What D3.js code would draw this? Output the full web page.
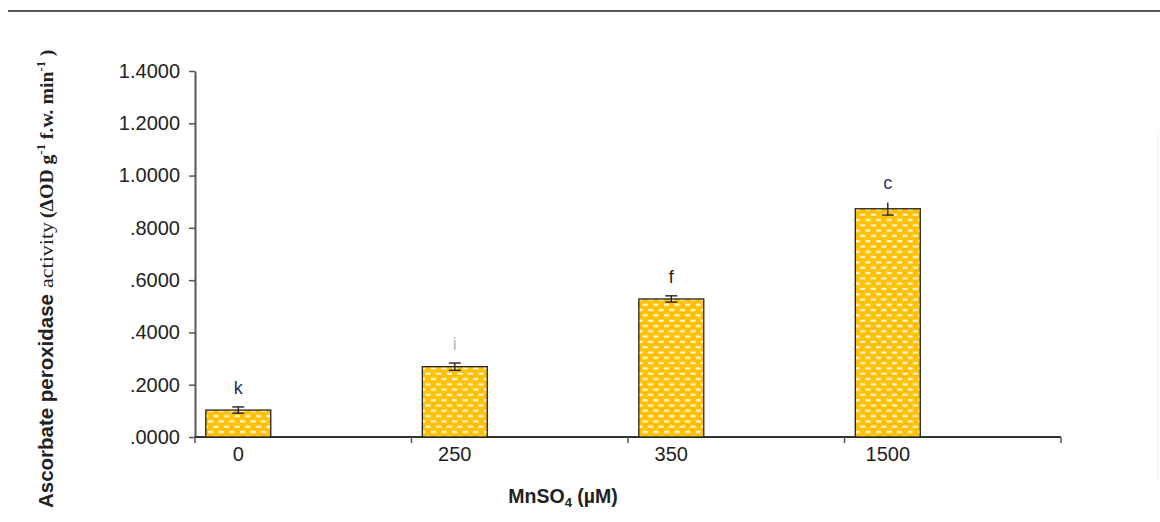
<!DOCTYPE html>
<html>
<head>
<meta charset="utf-8">
<script src="https://cdn.jsdelivr.net/npm/d3@7/dist/d3.min.js"></script>
<style>
  html, body { margin: 0; padding: 0; background: #fff; }
  svg { display: block; }
</style>
</head>
<body>
<script>
// MnSO4 concentrations (µM) and ascorbate peroxidase activity
const categories = ["0", "250", "350", "1500"];
const means      = [0.103, 0.269, 0.528, 0.873];
const errors     = [0.012, 0.014, 0.012, 0.024];
const letters    = ["k", "i", "f", "c"];
const yTicks     = [0, 0.2, 0.4, 0.6, 0.8, 1.0, 1.2, 1.4];

const W = 1160, H = 522;
const svg = d3.select("body").append("svg").attr("width", W).attr("height", H);

// Gold fill with a staggered white dash pattern
const defs = svg.append("defs");
const pat = defs.append("pattern")
  .attr("id", "dashFill").attr("patternUnits", "userSpaceOnUse")
  .attr("width", 10.6).attr("height", 10.6);
pat.append("rect").attr("width", 10.6).attr("height", 10.6).attr("fill", "#FFC000");
pat.append("rect").attr("x", 1.5).attr("y", 1.6).attr("width", 5).attr("height", 2.2).attr("fill", "#fff8e6");
pat.append("rect").attr("x", 6.8).attr("y", 6.9).attr("width", 5).attr("height", 2.2).attr("fill", "#fff8e6");
pat.append("rect").attr("x", -3.8).attr("y", 6.9).attr("width", 5).attr("height", 2.2).attr("fill", "#fff8e6");

// rule across the top of the page
svg.append("line").attr("x1", 8).attr("x2", W).attr("y1", 11).attr("y2", 11)
  .attr("stroke", "#555").attr("stroke-width", 2);

const y = d3.scaleLinear().domain([0, 1.4]).range([437, 71]);
const x = d3.scaleBand().domain(categories).range([195, 1061]).padding(0);
const barX = c => x(c) + x.bandwidth() * 0.05;
const barW = x.bandwidth() * 0.30;
const barC = c => barX(c) + barW / 2;

const tickFmt = v => d3.format(".4f")(v).replace(/^0/, "");

// y axis
const yAxis = svg.append("g").attr("transform", "translate(195,0)")
  .call(d3.axisLeft(y).tickValues(yTicks).tickFormat(tickFmt).tickSize(6).tickSizeOuter(0).tickPadding(9));
yAxis.select(".domain").attr("stroke", "#555").attr("stroke-width", 2);
yAxis.selectAll(".tick line").attr("stroke", "#555").attr("stroke-width", 1.5);
yAxis.selectAll(".tick text")
  .attr("font-family", "Liberation Sans, Arial, sans-serif")
  .attr("font-size", 20).attr("fill", "#222");

// x axis: baseline with ticks on the category boundaries
const y0 = y(0);
const xr = x.range();
svg.append("line").attr("x1", xr[0]).attr("x2", xr[1]).attr("y1", y0).attr("y2", y0)
  .attr("stroke", "#333").attr("stroke-width", 1.8);
const bounds = categories.map(c => x(c)).concat([xr[1]]);
svg.append("g").selectAll("line").data(bounds).join("line")
  .attr("x1", d => d).attr("x2", d => d).attr("y1", y0).attr("y2", y0 + 6)
  .attr("stroke", "#555").attr("stroke-width", 1.5);
svg.append("g").selectAll("text").data(categories).join("text")
  .attr("x", d => barC(d)).attr("y", 461)
  .attr("text-anchor", "middle")
  .attr("font-family", "Liberation Sans, Arial, sans-serif")
  .attr("font-size", 20).attr("fill", "#222")
  .text(d => d);

// bars
svg.append("g").selectAll("rect").data(categories).join("rect")
  .attr("x", d => barX(d))
  .attr("y", (d, i) => y(means[i]))
  .attr("width", barW)
  .attr("height", (d, i) => y0 - y(means[i]))
  .attr("fill", "url(#dashFill)")
  .attr("stroke", "#222").attr("stroke-width", 1.3);

// error bars
const eb = svg.append("g").attr("stroke", "#2a2222").attr("stroke-width", 1.4);
categories.forEach((c, i) => {
  const cx = barC(c), hi = y(means[i] + errors[i]), lo = y(means[i] - errors[i]);
  eb.append("line").attr("x1", cx).attr("x2", cx).attr("y1", hi).attr("y2", lo);
  eb.append("line").attr("x1", cx - 6).attr("x2", cx + 6).attr("y1", lo).attr("y2", lo);
  if (i !== 3) eb.append("line").attr("x1", cx - 6).attr("x2", cx + 6).attr("y1", hi).attr("y2", hi);
});

// significance letters
const letterColor = ["#2a2d5c", "#bbbbbb", "#222222", "#2b3e6b"];
svg.append("g").selectAll("text").data(categories).join("text")
  .attr("x", d => barC(d))
  .attr("y", (d, i) => y(means[i] + errors[i]) - 13)
  .attr("text-anchor", "middle")
  .attr("font-family", "Liberation Sans, Arial, sans-serif")
  .attr("font-size", 18)
  .attr("fill", (d, i) => letterColor[i])
  .text((d, i) => letters[i]);

// x axis title
const xt = svg.append("text")
  .attr("x", (barC(categories[0]) + barC(categories[categories.length - 1])) / 2)
  .attr("y", 503).attr("text-anchor", "middle")
  .attr("font-family", "Liberation Sans, Arial, sans-serif")
  .attr("font-weight", "bold").attr("font-size", 19.5).attr("fill", "#222");
xt.append("tspan").text("MnSO");
xt.append("tspan").attr("font-size", 13).attr("dy", 4).text("4");
xt.append("tspan").attr("dy", -4).text(" (µM)");

// y axis title, set in three runs along a rotated baseline
const ytG = svg.append("g").attr("transform", "translate(53,508) rotate(-90)").attr("fill", "#222");
ytG.append("text")
  .attr("x", 0)
  .attr("font-family", "Liberation Sans, Arial, sans-serif")
  .attr("font-weight", "bold").attr("font-size", 20)
  .attr("textLength", 214).attr("lengthAdjust", "spacingAndGlyphs")
  .text("Ascorbate peroxidase");
ytG.append("text")
  .attr("x", 220)
  .attr("font-family", "Liberation Serif, Times New Roman, serif")
  .attr("font-size", 18)
  .attr("textLength", 66).attr("lengthAdjust", "spacingAndGlyphs")
  .text("activity");
const ser = ytG.append("text")
  .attr("x", 290)
  .attr("font-family", "Liberation Serif, Times New Roman, serif")
  .attr("font-weight", "bold").attr("font-size", 19.8);
ser.append("tspan").text("(ΔOD g");
ser.append("tspan").attr("font-size", 12.5).attr("dy", -8).text("-1");
ser.append("tspan").attr("dy", 8).text(" f.w. min");
ser.append("tspan").attr("font-size", 12.5).attr("dy", -8).text("-1");
ser.append("tspan").attr("dy", 8).text(" )");

// faint edge at the right side
svg.append("line").attr("x1", 1158).attr("x2", 1158).attr("y1", 130).attr("y2", 480)
  .attr("stroke", "#f0f0f0").attr("stroke-width", 1);
</script>
</body>
</html>
